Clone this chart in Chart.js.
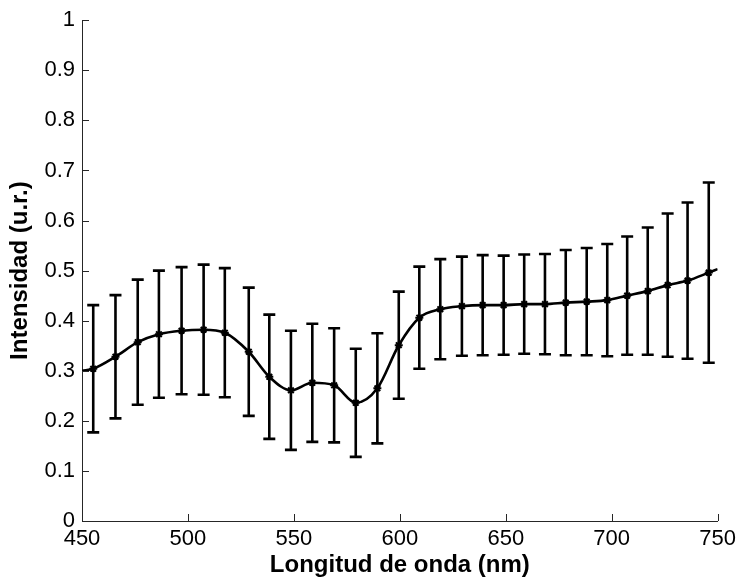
<!DOCTYPE html>
<html>
<head>
<meta charset="utf-8">
<script src="https://cdn.jsdelivr.net/npm/chart.js@4.4.1/dist/chart.umd.min.js"></script>
<style>
  html, body { margin: 0; padding: 0; background: #fff; }
  #wrap { width: 741px; height: 580px; }
</style>
</head>
<body>
<div id="wrap"><canvas id="chart"></canvas></div>
<script>
// Wavelengths (nm) of the sampled points
const wavelengths = [455.3, 465.8, 476.3, 486.3, 497, 507.4, 517.4, 528.7, 538.4, 548.6,
    558.7, 569, 579.2, 589.4, 599.5, 609.2, 619.1, 629.3, 639.1, 649,
    658.7, 668.5, 678.3, 688.2, 697.9, 707.3, 717, 726.4, 735.8, 745.8];
// Mean intensity (u.r.)
const intensity = [0.304, 0.328, 0.357, 0.373, 0.380, 0.382, 0.376, 0.338, 0.288, 0.261,
    0.276, 0.271, 0.236, 0.265, 0.351, 0.406, 0.423, 0.429, 0.431, 0.431,
    0.433, 0.433, 0.436, 0.438, 0.441, 0.450, 0.459, 0.471, 0.480, 0.496];
// Half-width of each error bar
const errors = [0.127, 0.123, 0.125, 0.127, 0.127, 0.130, 0.129, 0.128, 0.124, 0.119,
    0.118, 0.114, 0.108, 0.110, 0.107, 0.102, 0.100, 0.099, 0.100, 0.099,
    0.099, 0.100, 0.105, 0.107, 0.112, 0.118, 0.127, 0.143, 0.156, 0.180];
// Curve end values at the axis limits
const curveStart = [450, 0.300];
const curveEnd = [750, 0.503];

const xTicks = [450, 500, 550, 600, 650, 700, 750];
const yTickLabels = ['0', '0.1', '0.2', '0.3', '0.4', '0.5', '0.6', '0.7', '0.8', '0.9', '1'];

const axisColor = '#262626';

// Build point lists
const markerPoints = wavelengths.map((w, i) => ({ x: w, y: intensity[i] }));
const curvePoints = [{ x: curveStart[0], y: curveStart[1] }]
    .concat(markerPoints)
    .concat([{ x: curveEnd[0], y: curveEnd[1] }]);

// Error bars drawn through the scales
const errorBars = {
    id: 'errorBars',
    afterDatasetsDraw(chart) {
        const ctx = chart.ctx;
        const xs = chart.scales.x, ys = chart.scales.y;
        ctx.save();
        ctx.strokeStyle = '#000';
        ctx.lineWidth = 2.6;
        ctx.lineCap = 'butt';
        wavelengths.forEach((w, i) => {
            const px = xs.getPixelForValue(w);
            const top = ys.getPixelForValue(intensity[i] + errors[i]);
            const bot = ys.getPixelForValue(intensity[i] - errors[i]);
            ctx.beginPath();
            ctx.moveTo(px, top); ctx.lineTo(px, bot);
            ctx.moveTo(px - 6, top); ctx.lineTo(px + 6, top);
            ctx.moveTo(px - 6, bot); ctx.lineTo(px + 6, bot);
            ctx.stroke();
        });
        ctx.restore();
    }
};

// Inward tick marks (MATLAB style)
const innerTicks = {
    id: 'innerTicks',
    afterDraw(chart) {
        const ctx = chart.ctx;
        const xs = chart.scales.x, ys = chart.scales.y;
        const a = chart.chartArea;
        ctx.save();
        ctx.strokeStyle = axisColor;
        ctx.lineWidth = 1;
        xs.ticks.forEach(t => {
            const px = Math.round(xs.getPixelForValue(t.value)) + 0.5;
            ctx.beginPath();
            ctx.moveTo(px, a.bottom); ctx.lineTo(px, a.bottom - 7);
            ctx.stroke();
        });
        ys.ticks.forEach(t => {
            const py = Math.round(ys.getPixelForValue(t.value)) + 0.5;
            ctx.beginPath();
            ctx.moveTo(a.left, py); ctx.lineTo(a.left + 7, py);
            ctx.stroke();
        });
        ctx.restore();
    }
};

const ctx = document.getElementById('chart').getContext('2d');
const chart = new Chart(ctx, {
    type: 'line',
    data: {
        datasets: [{
            label: 'curve',
            data: curvePoints,
            borderColor: '#000',
            borderWidth: 2.6,
            pointRadius: 0,
            cubicInterpolationMode: 'monotone',
            fill: false
        }, {
            label: 'points',
            data: markerPoints,
            showLine: false,
            pointStyle: 'star',
            pointRadius: 4,
            borderColor: '#000',
            backgroundColor: '#000',
            pointBorderWidth: 2
        }]
    },
    options: {
        responsive: true,
        maintainAspectRatio: false,
        animation: false,
        layout: {
            padding: { top: 20, right: 21, left: 0, bottom: 0 }
        },
        plugins: {
            legend: { display: false },
            tooltip: { enabled: false }
        },
        scales: {
            x: {
                type: 'linear',
                min: 450,
                max: 750,
                afterBuildTicks: (scale) => { scale.ticks = xTicks.map(v => ({ value: v })); },
                afterFit: (scale) => { scale.height = 59; },
                grid: { display: false, drawTicks: false },
                border: { display: true, color: axisColor, width: 1 },
                ticks: {
                    color: '#000',
                    padding: 5,
                    maxRotation: 0,
                    font: { family: '"Liberation Sans", Arial, sans-serif', size: 22 }
                },
                title: {
                    display: true,
                    text: 'Longitud de onda (nm)',
                    color: '#000',
                    padding: { top: 0, bottom: 0 },
                    font: { family: '"Liberation Sans", Arial, sans-serif', size: 24, weight: 'bold' }
                }
            },
            y: {
                min: 0,
                max: 1,
                afterFit: (scale) => { scale.width = 82; },
                grid: { display: false, drawTicks: false },
                border: { display: true, color: axisColor, width: 1 },
                ticks: {
                    stepSize: 0.1,
                    color: '#000',
                    padding: 7,
                    callback: (v, i) => yTickLabels[i],
                    font: { family: '"Liberation Sans", Arial, sans-serif', size: 22 }
                },
                title: {
                    display: true,
                    text: 'Intensidad (u.r.)',
                    color: '#000',
                    padding: { top: 6, bottom: 0 },
                    font: { family: '"Liberation Sans", Arial, sans-serif', size: 24, weight: 'bold' }
                }
            }
        }
    },
    plugins: [errorBars, innerTicks]
});
</script>
</body>
</html>
